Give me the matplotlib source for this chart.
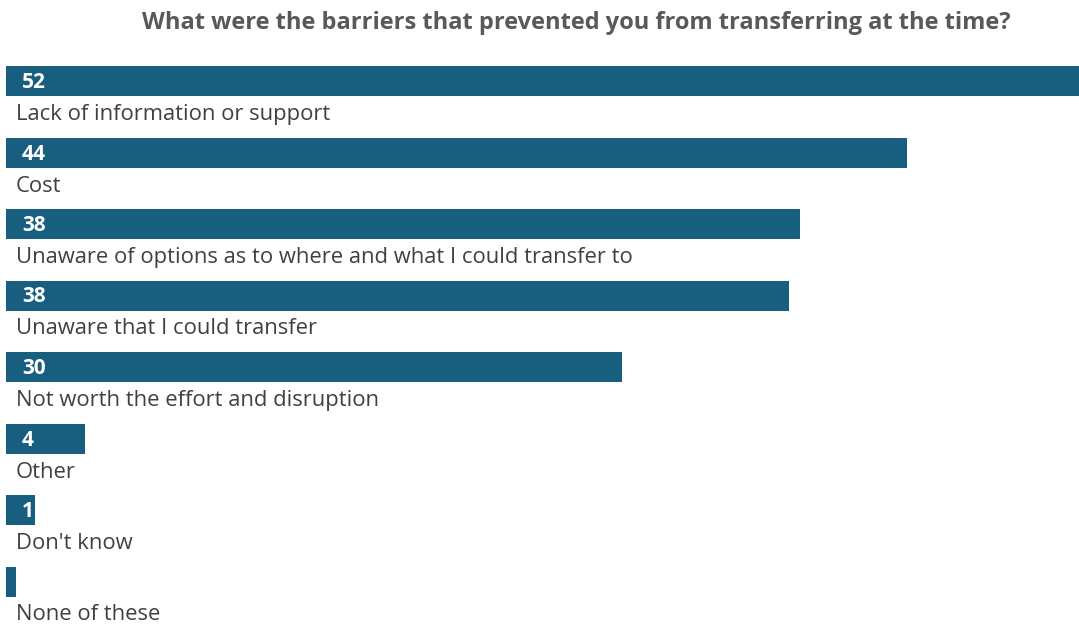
import matplotlib
matplotlib.use("Agg")
import matplotlib.pyplot as plt

# Survey results: share of respondents citing each barrier
categories = [
    "Lack of information or support",
    "Cost",
    "Unaware of options as to where and what I could transfer to",
    "Unaware that I could transfer",
    "Not worth the effort and disruption",
    "Other",
    "Don't know",
    "None of these",
]
values = [52.2, 43.6, 38.4, 37.9, 29.8, 3.8, 1.4, 0.5]
title = "What were the barriers that prevented you from transferring at the time?"

BAR_COLOR = "#175E7F"
TEXT_COLOR = "#404040"
TITLE_COLOR = "#595959"
FONT = ["Open Sans", "DejaVu Sans"]

W, H, DPI = 1079, 624, 100
fig = plt.figure(figsize=(W / DPI, H / DPI), dpi=DPI)

left_px = 6
pitch_px = 71.5
first_center_px = 81
ax = fig.add_axes([left_px / W, 0, 1 - left_px / W, 1])

px_per_unit = 20.67
xmax = (W - left_px) / px_per_unit
ax.set_xlim(0, xmax)
ax.set_ylim((H - first_center_px) / pitch_px, -first_center_px / pitch_px)
ax.axis("off")

ypos = list(range(len(categories)))
bar_h = 30 / pitch_px
ax.barh(ypos, values, height=bar_h, color=BAR_COLOR, edgecolor="none")

num_x = 16 / px_per_unit
cat_x = 10 / px_per_unit
for y, cat, v in zip(ypos, categories, values):
    label = f"{v:.0f}"
    if label != "0":
        ax.text(num_x, y + 1.5 / pitch_px, label, color="white", fontsize=15,
                fontweight="bold", family=FONT, va="center", ha="left")
    ax.text(cat_x, y + 33.5 / pitch_px, cat, color=TEXT_COLOR, fontsize=15.8,
            family=FONT, va="center", ha="left")

fig.text(576 / W, 1 - 23 / H, title, color=TITLE_COLOR, fontsize=17,
         fontweight="bold", family=FONT, ha="center", va="center")

fig.savefig("out.png", dpi=DPI)
